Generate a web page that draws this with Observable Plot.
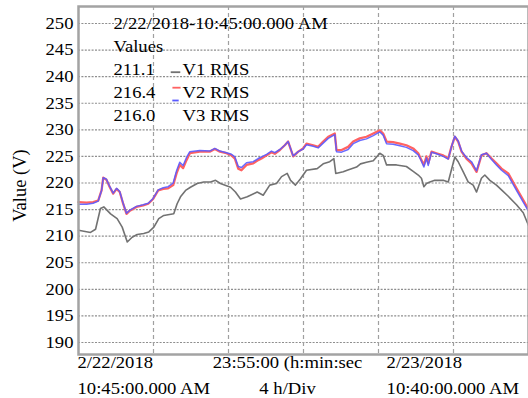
<!DOCTYPE html>
<html>
<head>
<meta charset="utf-8">
<script src="https://cdn.jsdelivr.net/npm/d3@7"></script>
<script src="https://cdn.jsdelivr.net/npm/@observablehq/plot@0.6"></script>
<style>
  html, body { margin: 0; padding: 0; background: #fff; }
  #chart { width: 528px; height: 398px; }
  #chart svg, #chart svg text { font-family: "Liberation Serif", "Times New Roman", serif; }
</style>
</head>
<body>
<div id="chart"></div>
<script>
// Hours since the start of the recording (2/22/2018 10:45 AM), shared by V2 and V3
const sampleHours = [0, 0.43, 0.78, 1.05, 1.23, 1.32, 1.49, 1.67, 1.85, 2.03, 2.2, 2.38, 2.56, 2.74, 3.09, 3.45, 3.72, 3.98, 4.25, 4.52,
  4.78, 5.05, 5.23, 5.4, 5.58, 5.76, 5.94, 6.47, 7.0, 7.27, 7.54, 7.89, 8.16, 8.34, 8.52, 8.69, 8.96, 9.32, 9.58, 9.76,
  10.03, 10.29, 10.47, 10.74, 11.0, 11.18, 11.45, 11.72, 11.98, 12.16, 12.52, 12.78, 13.05, 13.32, 13.67, 13.76, 14.03, 14.38, 14.65, 15.0,
  15.36, 15.72, 16.07, 16.25, 16.43, 16.78, 17.14, 17.49, 17.85, 18.12, 18.29, 18.42, 18.56, 18.65, 18.83, 19.09, 19.45, 19.72, 19.89, 20.07,
  20.25, 20.43, 20.69, 20.96, 21.23, 21.49, 21.76, 22.03, 22.29, 22.56, 22.92, 23.36, 23.72, 24.0];

// V2 RMS (volts)
const v2Values = [216.4, 216.3, 216.4, 216.7, 218.6, 221.0, 220.6, 219.2, 218.0, 218.9, 218.3, 216.1, 214.2, 214.8, 215.5, 215.8, 216.1, 217.0, 218.6, 218.9,
  219.0, 219.6, 221.8, 223.4, 222.8, 224.3, 225.6, 225.9, 225.9, 226.4, 225.9, 225.6, 225.2, 224.6, 222.7, 222.4, 223.4, 223.7, 224.3, 224.6,
  225.2, 225.8, 225.5, 226.2, 227.1, 227.8, 225.0, 225.9, 226.5, 227.4, 227.1, 226.8, 227.8, 228.7, 229.3, 226.2, 226.2, 226.8, 227.8, 228.4,
  228.7, 229.3, 229.9, 229.3, 227.8, 227.7, 227.4, 227.1, 226.5, 225.6, 224.3, 223.4, 225.0, 223.7, 225.9, 225.6, 225.2, 224.6, 226.8, 228.7,
  227.8, 225.9, 224.6, 223.7, 222.1, 225.2, 225.6, 224.6, 223.7, 222.7, 221.8, 219.0, 216.8, 215.0];

// V3 RMS (volts)
const v3Values = [216.0, 216.0, 216.2, 216.6, 218.6, 221.0, 220.7, 219.3, 218.1, 219.0, 218.4, 216.2, 214.3, 214.9, 215.6, 215.9, 216.2, 217.1, 218.7, 219.1,
  219.3, 220.0, 222.3, 223.9, 223.3, 224.8, 225.9, 226.1, 226.0, 226.5, 226.0, 225.7, 225.4, 224.9, 223.1, 222.9, 223.8, 224.0, 224.6, 224.9,
  225.4, 226.0, 225.7, 226.3, 227.1, 227.8, 225.1, 225.9, 226.4, 227.2, 226.9, 226.6, 227.5, 228.4, 229.1, 225.9, 225.8, 226.3, 227.4, 228.0,
  228.3, 228.9, 229.6, 229.0, 227.4, 227.3, 227.0, 226.7, 226.1, 225.3, 224.1, 223.0, 224.7, 223.3, 225.8, 225.5, 225.0, 224.5, 226.8, 228.8,
  227.9, 226.0, 224.8, 224.0, 222.3, 225.3, 225.6, 224.4, 223.4, 222.4, 221.4, 218.6, 216.4, 214.7];

// V1 RMS: hours and volts
const v1Hours = [0, 0.64, 0.91, 1.17, 1.35, 1.71, 2.06, 2.33, 2.6, 2.86, 3.13, 3.48, 3.75, 4.02, 4.28, 4.55, 5.08, 5.26, 5.44, 5.71,
  5.97, 6.33, 6.68, 7.04, 7.31, 7.57, 8.11, 8.37, 8.64, 9.0, 9.53, 9.85, 10.2, 10.56, 10.83, 11.13, 11.31, 11.57, 11.84, 12.16,
  12.73, 13.05, 13.4, 13.62, 13.72, 14.12, 14.33, 14.83, 15.04, 15.36, 15.72, 16.07, 16.25, 16.43, 16.96, 17.49, 17.85, 18.12, 18.29, 18.42,
  18.56, 18.74, 19.0, 19.45, 19.72, 19.89, 20.07, 20.25, 20.52, 20.78, 21.05, 21.23, 21.49, 21.67, 21.94, 22.29, 22.56, 22.92, 23.36, 23.72, 24.0];
const v1Values = [211.1, 210.7, 211.3, 215.2, 215.5, 214.2, 213.3, 211.7, 208.9, 209.8, 210.3, 210.5, 210.8, 211.7, 213.3, 213.9, 214.2, 216.1, 217.4, 218.6,
  219.2, 219.9, 220.2, 220.2, 220.5, 219.9, 219.2, 218.3, 217.0, 217.4, 218.3, 217.7, 219.6, 219.9, 221.2, 221.8, 220.5, 219.6, 220.8, 222.4,
  222.7, 223.6, 224.0, 224.6, 221.8, 222.1, 222.4, 223.0, 223.6, 223.9, 224.2, 225.6, 225.2, 223.4, 223.4, 223.1, 222.2, 221.5, 220.9, 219.3,
  219.9, 220.2, 220.5, 220.5, 220.2, 222.5, 224.9, 224.0, 222.1, 220.2, 219.6, 218.3, 220.9, 221.5, 220.5, 219.6, 218.7, 217.5, 215.9, 214.4, 212.0];

// Axis ticks and labels
const yTicks = [190, 195, 200, 205, 210, 215, 220, 225, 230, 235, 240, 245, 250];
const divisionHours = [4, 8, 12, 16, 20];
const cursorStamp = "2/22/2018-10:45:00.000 AM";
const valuesHeading = "Values";
const seriesNames = ["V1 RMS", "V2 RMS", "V3 RMS"];
const xLabelsTop = ["2/22/2018", "23:55:00 (h:min:sec", "2/23/2018"];
const xLabelsBottom = ["10:45:00.000 AM", "4 h/Div", "10:40:00.000 AM"];
const yTitle = "Value (V)";

const v1 = v1Hours.map((h, i) => ({h, v: v1Values[i]}));
const v2 = sampleHours.map((h, i) => ({h, v: v2Values[i]}));
const v3 = sampleHours.map((h, i) => ({h, v: v3Values[i]}));

// cursor readout shows the values at the start of the trace
const cursorValues = [v1Values[0], v2Values[0], v3Values[0]];
const seriesColors = ["#727272", "#ff6262", "#5a5aff"];

const serif = "Liberation Serif";
const txt = (text, opts) => Plot.text([text], {lineAnchor: "middle", fill: "#000", fontFamily: serif, fontSize: 16.5, ...opts});
const rowY = [63.4, 86.1, 108.8];

// short horizontal stroke used as a legend swatch
const dashSymbol = {
  draw(context, size) {
    const w = Math.sqrt(size) / 2;
    context.moveTo(-w, 0);
    context.lineTo(w, 0);
  }
};
const swatch = (color, dx, dy, r) =>
  Plot.dot([0], {frameAnchor: "top-left", dx, dy, r, symbol: dashSymbol, stroke: color, strokeWidth: 1.8, fill: "none"});

const plot = Plot.plot({
  width: 528,
  height: 398,
  marginLeft: 78,
  marginRight: 0,
  marginTop: 6,
  marginBottom: 44,
  style: {fontFamily: serif, fontSize: "16.5px", background: "#fff", color: "#000", overflow: "visible"},
  x: {domain: [0, 24], axis: null},
  y: {domain: [187.74, 253.2], axis: null},
  marks: [
    Plot.ruleY(yTicks, {stroke: "#8e8e8e", strokeWidth: 1.2, strokeDasharray: "2,1.4"}),
    Plot.ruleX(divisionHours, {stroke: "#a0a0a0", strokeWidth: 1.2, strokeDasharray: "4,3"}),
    Plot.axisY(yTicks, {tickSize: 0, tickPadding: 5, label: null, fontSize: 16.5, fontFamily: serif}),
    Plot.line(v1, {x: "h", y: "v", stroke: seriesColors[0], strokeWidth: 1.6}),
    Plot.line(v2, {x: "h", y: "v", stroke: seriesColors[1], strokeWidth: 2.3}),
    Plot.line(v3, {x: "h", y: "v", stroke: seriesColors[2], strokeWidth: 1.5, strokeOpacity: 0.9}),
    Plot.frame({stroke: "#a3a3a3", strokeWidth: 2.5}),

    // cursor readout
    txt(cursorStamp, {frameAnchor: "top-left", dx: 35, dy: 17, textAnchor: "start"}),
    txt(valuesHeading, {frameAnchor: "top-left", dx: 35, dy: 40.7, textAnchor: "start"}),
    ...cursorValues.map((v, i) => txt(v.toFixed(1), {frameAnchor: "top-left", dx: 35, dy: rowY[i], textAnchor: "start"})),
    ...seriesNames.map((name, i) => txt(name, {frameAnchor: "top-left", dx: 104, dy: rowY[i], textAnchor: "start"})),
    swatch(seriesColors[0], 97, 65.7, 5.4),
    swatch(seriesColors[1], 98, 81.2, 4.6),
    swatch(seriesColors[2], 97, 94, 3.6),

    // time axis labels
    txt(xLabelsTop[0], {x: 0, frameAnchor: "bottom", dx: -1, dy: 8.6, textAnchor: "start"}),
    txt(xLabelsBottom[0], {x: 0, frameAnchor: "bottom", dx: -1, dy: 34, textAnchor: "start"}),
    txt(xLabelsTop[1], {x: 11.15, frameAnchor: "bottom", dy: 8.6, textAnchor: "middle"}),
    txt(xLabelsBottom[1], {x: 11.15, frameAnchor: "bottom", dy: 34, textAnchor: "middle"}),
    txt(xLabelsTop[2], {x: 16.43, frameAnchor: "bottom", dy: 8.6, textAnchor: "start"}),
    txt(xLabelsBottom[2], {x: 16.43, frameAnchor: "bottom", dy: 34, textAnchor: "start"}),

    // vertical axis title
    txt(yTitle, {frameAnchor: "left", dx: -58, dy: 5, rotate: -90, textAnchor: "middle", fontSize: 18.5})
  ]
});

// the serif face is set slightly wide: stretch horizontal text
plot.querySelectorAll("text").forEach((t) => {
  const tr = t.getAttribute("transform") || "";
  if (!/rotate/.test(tr)) t.setAttribute("transform", tr + " scale(1.13,1)");
});

document.getElementById("chart").appendChild(plot);
</script>
</body>
</html>
